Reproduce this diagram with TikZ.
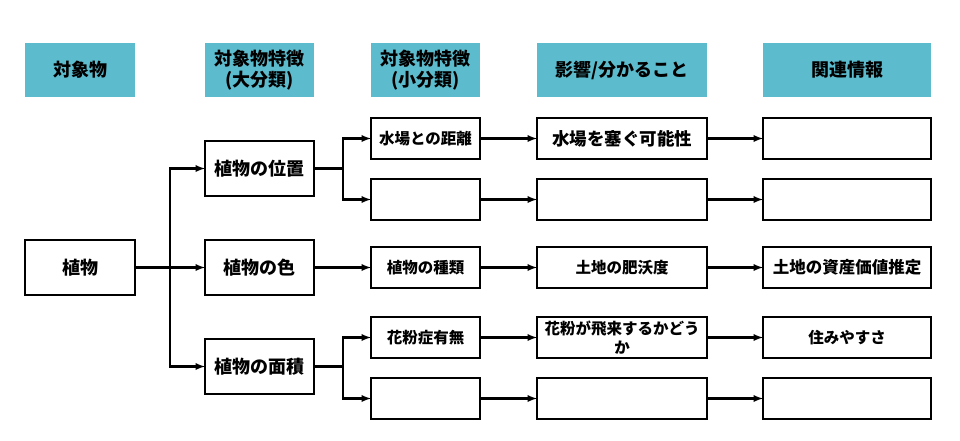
\documentclass[tikz,border=0pt]{standalone}
\usepackage{fontspec}
\setmainfont{Noto Sans CJK JP}
\usetikzlibrary{positioning,arrows}
\definecolor{headblue}{RGB}{92,187,204}

\begin{document}
\begin{tikzpicture}[
  x=1pt,y=1pt,
  line width=2.2pt,
  font=\bfseries\fontsize{18}{21}\selectfont,
  head/.style={fill=headblue,minimum height=54pt,align=center,inner sep=0pt,outer sep=0pt},
  box/.style={draw,minimum height=41pt,align=center,inner sep=0pt,outer sep=0pt},
  bigbox/.style={draw,minimum width=109pt,minimum height=55pt,inner sep=0pt,outer sep=0pt},
  small/.style={font=\bfseries\fontsize{15.5}{19.5}\selectfont},
  mid/.style={font=\bfseries\fontsize{17.5}{21}\selectfont},
  arr/.style={-latex}
]
\useasboundingbox (0,0) rectangle (960,-440);

% headers
\node[head,minimum width=110pt] (h1) at (80,-70) {対象物};
\node[head,minimum width=109pt,right=70pt of h1] (h2) {対象物特徴\\(大分類)};
\node[head,minimum width=109pt,right=57pt of h2] (h3) {対象物特徴\\(小分類)};
\node[head,minimum width=170pt,right=57pt of h3] (h4) {影響/分かること};
\node[head,minimum width=168pt,right=56pt of h4] (h5) {関連情報};

% object and main features
\node[bigbox,minimum width=110pt,below=143pt of h1] (plant) {植物};
\node[bigbox,right=70pt of plant] (color) {植物の色};
\node[bigbox,above=44pt of color] (place) {植物の位置};
\node[bigbox,below=44pt of color] (area) {植物の面積};

% sub features
\node[box,small,minimum width=109pt,right=57pt of color] (kind) {植物の種類};
\node[box,small,minimum width=109pt,above=27pt of kind] (sub2) {};
\node[box,small,minimum width=109pt,above=20pt of sub2] (water) {水場との距離};
\node[box,small,minimum width=109pt,below=29pt of kind] (pollen) {花粉症有無};
\node[box,small,minimum width=109pt,below=20pt of pollen] (sub5) {};

% effects
\node[box,mid,minimum width=170pt,right=57pt of water] (block) {水場を塞ぐ可能性};
\node[box,small,minimum width=170pt,right=57pt of sub2] (eff2) {};
\node[box,small,minimum width=170pt,right=57pt of kind] (fertile) {土地の肥沃度};
\node[box,small,minimum width=170pt,right=57pt of pollen] (flying) {花粉が飛来するかどう\\か};
\node[box,small,minimum width=170pt,right=57pt of sub5] (eff5) {};

% related info
\node[box,small,minimum width=168pt,right=56pt of block] (info1) {};
\node[box,small,minimum width=168pt,right=56pt of eff2] (info2) {};
\node[box,small,font=\bfseries\fontsize{16.5}{20}\selectfont,minimum width=168pt,right=56pt of fertile] (value) {土地の資産価値推定};
\node[box,small,minimum width=168pt,right=56pt of flying] (living) {住みやすさ};
\node[box,small,minimum width=168pt,right=56pt of eff5] (info5) {};

\draw[arr] (plant.east) -- ++(35,0) |- (place);
\draw[arr] (plant.east) -- ++(35,0) |- (area);
\draw[arr] (place.east) -- ++(29,0) |- (water);
\draw[arr] (place.east) -- ++(29,0) |- (sub2);
\draw[arr] (area.east) -- ++(29,0) |- (pollen);
\draw[arr] (area.east) -- ++(29,0) |- (sub5);

\path (plant) edge[arr] (color)
(color) edge[arr] (kind)
(water) edge[arr] (block)
(sub2) edge[arr] (eff2)
(kind) edge[arr] (fertile)
(pollen) edge[arr] (flying)
(sub5) edge[arr] (eff5)
(block) edge[arr] (info1)
(eff2) edge[arr] (info2)
(fertile) edge[arr] (value)
(flying) edge[arr] (living)
(eff5) edge[arr] (info5);
\end{tikzpicture}
\end{document}
